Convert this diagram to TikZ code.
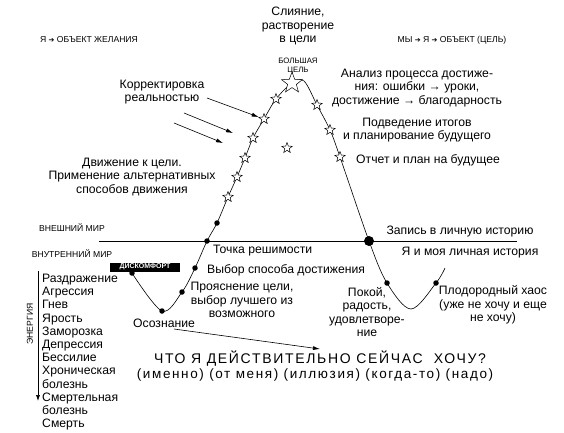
\documentclass[tikz,border=0pt]{standalone}
\usepackage{fontspec}
\setmainfont{Liberation Sans}
\newfontfamily\symfont{DejaVu Sans}
\newcommand{\toarrow}{{\symfont\fontsize{7}{8}\selectfont ➔}}
\usetikzlibrary{arrows.meta,shapes.geometric}
\tikzset{
  lbl/.style={font=\fontsize{12.2}{13.6}\selectfont,align=center,inner sep=0pt},
  caps/.style={font=\fontsize{8.6}{9.5}\selectfont,align=center,inner sep=0pt},
  bigq/.style={font=\fontsize{14}{16}\selectfont\addfontfeature{LetterSpace=12},inner sep=0pt},
  dot/.style={circle,fill=black,inner sep=0pt,minimum size=5.5pt},
  bigdot/.style={dot,minimum size=10pt},
  goalstar/.style={star,star points=5,star point ratio=2.4,draw,fill=white,
    inner sep=0pt,minimum size=11pt,line width=0.5pt},
  arr/.style={-{Latex[length=7pt,width=4pt]},line width=0.6pt},
  tag/.style={fill=black,text=white,font=\fontsize{7}{8}\selectfont\bfseries,
    inner sep=1pt,minimum width=70pt,minimum height=9pt},
}
\begin{document}
\begin{tikzpicture}[x=1pt,y=-1pt]
  \useasboundingbox (0,0) rectangle (564,432);
  % worlds
  \coordinate (hl) at (99,241);
  \coordinate (hr) at (517,241);
  \draw[line width=0.6pt] (hl) -- (hr);
  \node[caps] (outer) at (72,228) {ВНЕШНИЙ МИР};
  \node[caps] (inner) at (72,254) {ВНУТРЕННИЙ МИР};
  \node[caps] (selfobj) at (89,40) {Я \toarrow{} ОБЪЕКТ ЖЕЛАНИЯ};
  \node[caps] (weobj) at (452,40) {МЫ \toarrow{} Я \toarrow{} ОБЪЕКТ (ЦЕЛЬ)};

  % path points
  \foreach \n/\x/\y in {c1/132/273,c2/162/311,c3/182/292,c4/195/268,c5/207/241,c6/217/223,
    s1/228/197,s2/237/177,s3/245/158,s4/253/138,s5/264/119,s6/276/99,big/292/83,top/304/81,
    r1/317/105,r2/330/130,r3/340/157,key/369/241,d1/387/283,m/411/309,d2/436/283,e/445/268}
    \coordinate (\n) at (\x,\y);
  \draw[line width=0.6pt] plot[smooth,tension=0.55] coordinates {(c1) (c2) (c3) (c4) (c5) (c6)
    (s1) (s2) (s3) (s4) (s5) (s6) (big) (top) (r1) (r2) (r3) (key) (d1) (m) (d2) (e)};

  \foreach \n in {c1,c2,c3,c4,c5,c6,d1,d2}
    \node[dot] (p\n) at (\n) {};
  \node[bigdot] (pkey) at (key) {};
  \foreach \n in {s1,s2,s3,s4,s5,s6,r1,r2,r3}
    \node[goalstar] (p\n) at (\n) {};
  \node[goalstar,minimum size=22pt] (pbig) at (big) {};
  \node[goalstar] (lone) at (287,148) {};

  % labels
  \node[lbl] (merge) at (298,26) {Слияние,\\растворение\\в цели};
  \node[caps,font=\fontsize{7.8}{9}\selectfont] (goal) at (298,66) {БОЛЬШАЯ\\ЦЕЛЬ};
  \node[lbl] (analysis) at (417,88) {Анализ процесса достиже-\\ния: ошибки → уроки,\\достижение → благодарность};
  \node[lbl] (summary) at (417,130) {Подведение итогов\\и планирование будущего};
  \node[lbl,anchor=west] (report) at (356,160) {Отчет и план на будущее};
  \node[lbl] (corr) at (162,92) {Корректировка\\реальностью};
  \node[lbl] (move) at (132,177) {Движение к цели.\\Применение альтернативных\\способов движения};
  \node[lbl,anchor=base west] (resolve) at (213,253) {Точка решимости};
  \node[lbl,anchor=base west] (choice) at (207,273) {Выбор способа достижения};
  \node[lbl] (clarify) at (242,300) {Прояснение цели,\\выбор лучшего из\\возможного};
  \node[lbl,anchor=base] (aware) at (164,327) {Осознание};
  \node[lbl,anchor=base] (record) at (460,234) {Запись в личную историю};
  \node[lbl,anchor=base] (history) at (470,255) {Я и моя личная история};
  \node[lbl] (peace) at (367,312) {Покой,\\радость,\\удовлетворе-\\ние};
  \node[lbl] (chaos) at (493,305) {Плодородный хаос\\(уже не хочу и еще\\не хочу)};
  \node[tag] (discomfort) at (145,267) {ДИСКОМФОРТ};
  \node[bigq,anchor=base] (question) at (320,363) {ЧТО Я ДЕЙСТВИТЕЛЬНО СЕЙЧАС\ \ ХОЧУ?};
  \node[lbl,anchor=base,font=\fontsize{13.5}{15}\selectfont\addfontfeature{LetterSpace=12}] (kinds) at (315,378)
    {(именно) (от меня) (иллюзия) (когда-то) (надо)};

  % arrows
  \coordinate (a1) at (207,98);
  \draw[arr] (a1) -- (ps5);
  \coordinate (a2s) at (184,113);
  \coordinate (a2e) at (233,133);
  \draw[arr] (a2s) -- (a2e);
  \coordinate (a3s) at (174,123);
  \coordinate (a3e) at (223,143);
  \draw[arr] (a3s) -- (a3e);
  \coordinate (a4s) at (174,329);
  \coordinate (a4e) at (320,349);
  \draw[arr] (a4s) -- (a4e);

  % energy scale
  \node[caps,rotate=90] (energy) at (30,324) {ЭНЕРГИЯ};
  \coordinate (et) at (38,271);
  \coordinate (eb) at (38,401);
  \draw[-{Latex[length=6pt,width=4pt]},line width=0.6pt] (et) -- (eb);
  \foreach \w [count=\i] in {Раздражение,Агрессия,Гнев,Ярость,Заморозка,Депрессия,Бессилие,
    Хроническая,болезнь,Смертельная,болезнь,Смерть}
    \node[lbl,anchor=base west] (w\i) at (42,{282.5+13.2*(\i-1)}) {\w};
\end{tikzpicture}
\end{document}
